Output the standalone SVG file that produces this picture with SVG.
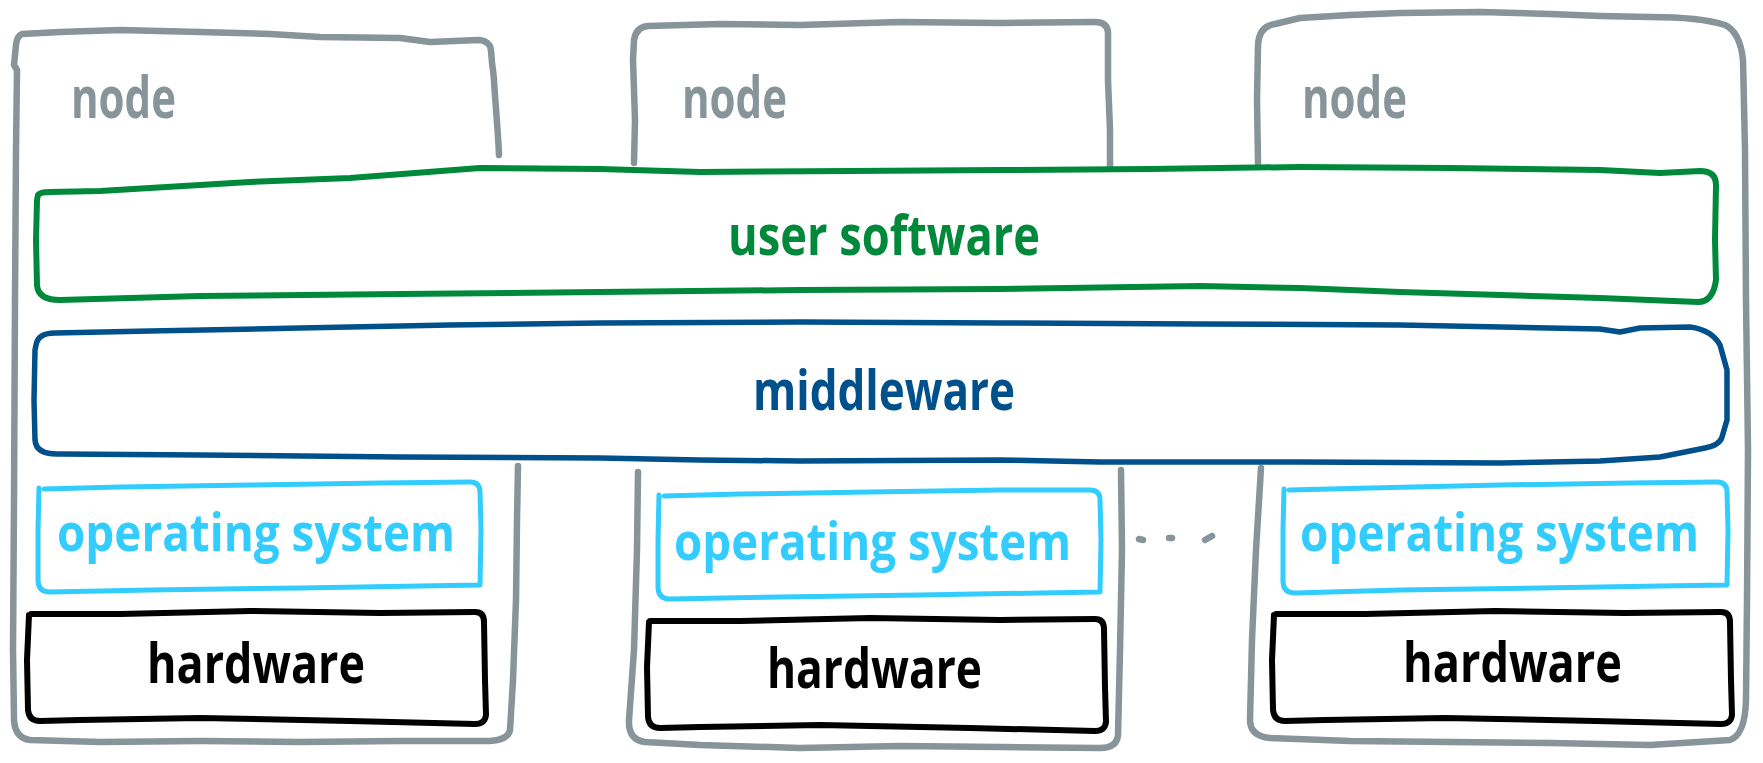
<svg xmlns="http://www.w3.org/2000/svg" width="1763" height="763" viewBox="0 0 1763 763">
<style>
.ln{fill:none;stroke-linecap:round;stroke-linejoin:round}
.gray{stroke:#87949a;stroke-width:6.5}
.green{stroke:#00893a;stroke-width:6}
.blue{stroke:#00508c;stroke-width:5.5}
.cyan{stroke:#33ccff;stroke-width:5}
.black{stroke:#000;stroke-width:6}
text{font-family:"Open Sans","Liberation Sans",sans-serif;font-weight:700;font-size:56px;text-anchor:start}
.tg{fill:#87949a;font-size:58px}
.tgr{fill:#00893a}
.tb{fill:#00508c}
.tc{fill:#33ccff;font-size:52px}
.tk{fill:#000}
</style>
<rect width="1763" height="763" fill="#fff"/>
<g id="node1">
<path class="ln gray" d="M499,155 C498,130 495,100 494,80 L493,70 C491,60 492,52 490,46 Q486,40 478,40 L430,42 L400,38 L320,37 L270,34 L200,32 L120,30 L60,32 L22,34 Q17,36 16,45 L14,65 L17,70 L16,150 L15,300 L14,500 L13,650 L14,720 Q15,738 30,740 L100,742 L200,741 L300,742 L400,741 L490,741 Q508,740 510,730 L513,680 L516,600 L517,520 L518,466"/>
<text class="tg" x="71" y="118" textLength="105" lengthAdjust="spacingAndGlyphs">node</text>
</g>
<g id="node2">
<path class="ln gray" d="M634,163 L635,120 L633,60 L634,40 Q636,27 648,26 L720,24 L800,25 L900,22 L1000,23 L1095,22 Q1107,22 1108,32 L1108,80 L1110,130 L1110,168"/>
<path class="ln gray" d="M638,472 L637,550 L634,650 L629,720 Q628,740 645,742 L700,745 L800,748 L900,746 L1000,747 L1100,748 Q1117,748 1118,735 L1120,650 L1122,550 L1121,470"/>
<text class="tg" x="682" y="118" textLength="105" lengthAdjust="spacingAndGlyphs">node</text>
</g>
<g id="node3">
<path class="ln gray" d="M1258,163 L1257,100 L1258,45 Q1259,26 1275,24 L1300,18 L1350,15 L1400,13 L1480,12 L1550,14 L1600,16 L1650,17 Q1700,17 1725,25 Q1740,32 1743,60 L1745,150 L1746,300 L1748,450 L1747,600 L1746,700 Q1745,735 1730,740 L1650,745 L1550,743 L1450,742 L1350,741 L1270,738 Q1250,736 1250,720 L1252,640 L1256,550 L1261,468"/>
<text class="tg" x="1302" y="118" textLength="105" lengthAdjust="spacingAndGlyphs">node</text>
</g>
<g id="user-software">
<path class="ln green" d="M38,195 Q40,192 50,192 L100,191 L150,188 L250,182 L350,178 L480,168 L600,169 L700,172 L850,171 L1000,170 L1150,169 L1300,167 L1450,168 L1600,170 L1660,173 L1700,171 Q1716,171 1716,185 L1715,240 L1716,280 Q1713,302 1698,302 L1600,298 L1400,292 L1300,288 L1200,286 L1000,289 L800,290 L600,292 L400,294 L200,296 L60,300 Q38,300 37,285 L36,240 L37,200 Z"/>
<text class="tgr" x="728" y="255" textLength="312" lengthAdjust="spacingAndGlyphs">user software</text>
</g>
<g id="middleware">
<path class="ln blue" d="M36,345 Q38,333 55,333 L150,331 L300,328 L450,325 L600,323 L800,322 L1000,323 L1200,324 L1400,325 L1600,329 L1620,332 L1640,328 L1690,327 Q1712,330 1720,345 L1727,370 L1727,420 L1722,437 Q1720,445 1705,448 L1660,457 L1600,461 L1500,463 L1300,462 L1100,462 L1000,460 L800,461 L700,460 L600,458 L400,457 L200,455 L60,454 Q36,455 35,440 L34,400 L35,350 Z"/>
<text class="tb" x="753" y="410" textLength="262" lengthAdjust="spacingAndGlyphs">middleware</text>
</g>
<g id="os1">
<path class="ln cyan" d="M44,489 L120,487 L250,485 L380,483 L470,482 Q480,482 480,492 L481,530 L480,585 L420,586 L300,588 L150,590 L50,592 Q38,592 38,580 L38,530 L39,488"/>
<text class="tc" x="57" y="551" textLength="398" lengthAdjust="spacingAndGlyphs">operating system</text>
</g>
<g id="os2">
<path class="ln cyan" d="M664,496 L740,494 L870,492 L1000,490 L1090,490 Q1100,490 1100,500 L1101,540 L1100,592 L1040,593 L920,595 L780,597 L670,599 Q658,599 658,587 L658,540 L659,495"/>
<text class="tc" x="674" y="560" textLength="397" lengthAdjust="spacingAndGlyphs">operating system</text>
</g>
<g id="os3">
<path class="ln cyan" d="M1289,490 L1370,488 L1500,485 L1630,483 L1717,482 Q1727,482 1727,492 L1728,530 L1727,585 L1660,586 L1540,588 L1400,590 L1295,593 Q1283,593 1283,581 L1283,530 L1284,489"/>
<text class="tc" x="1300" y="551" textLength="399" lengthAdjust="spacingAndGlyphs">operating system</text>
</g>
<g id="hw1">
<path class="ln black" d="M31,614 L120,614 L250,611 L380,613 L475,612 Q484,612 484,622 L485,680 L486,715 Q485,724 475,724 L350,721 L200,718 L80,720 L40,721 Q29,721 28,710 L27,660 L29,615"/>
<text class="tk" x="147" y="683" textLength="218" lengthAdjust="spacingAndGlyphs">hardware</text>
</g>
<g id="hw2">
<path class="ln black" d="M650,621 L740,621 L870,618 L1000,620 L1095,619 Q1104,619 1104,629 L1105,687 L1106,722 Q1105,731 1095,731 L970,728 L820,725 L700,727 L660,728 Q649,728 648,717 L647,667 L649,622"/>
<text class="tk" x="767" y="688" textLength="215" lengthAdjust="spacingAndGlyphs">hardware</text>
</g>
<g id="hw3">
<path class="ln black" d="M1276,614 L1365,614 L1495,611 L1625,613 L1721,612 Q1730,612 1730,622 L1731,680 L1732,715 Q1731,724 1721,724 L1595,721 L1445,718 L1325,720 L1285,721 Q1274,721 1273,710 L1272,660 L1274,615"/>
<text class="tk" x="1403" y="682" textLength="219" lengthAdjust="spacingAndGlyphs">hardware</text>
</g>
<g id="ellipsis">
<path class="ln gray" stroke-width="9" d="M1139,539 L1143,540 M1169,538 L1172,538 M1205,540 L1212,536"/>
</g>
<g id="connectors"/>
</svg>
